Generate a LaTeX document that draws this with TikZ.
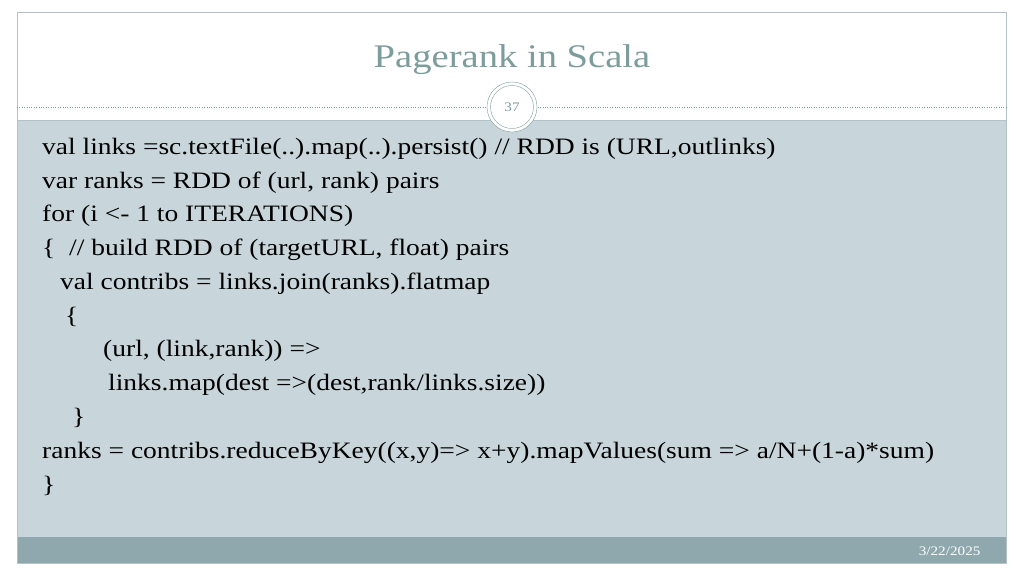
\documentclass[tikz,border=0pt]{standalone}
\usepackage{fontspec}
\setmainfont{Liberation Serif}[FakeStretch=1.17]
\definecolor{body}{HTML}{C8D5DA}
\definecolor{foot}{HTML}{8FA8AE}
\definecolor{ttl}{HTML}{7D9C9C}
\definecolor{frame}{HTML}{B4C2C6}
\begin{document}
\begin{tikzpicture}[x=1pt,y=-1pt,
  code/.style={anchor=base west,inner sep=0pt,font=\fontsize{23.5}{23.5}\selectfont}]
\useasboundingbox (0,0) rectangle (1024,576);
\fill[white] (0,0) rectangle (1024,576);
\fill[body] (17,120) rectangle (1006,537);
\fill[foot] (17,537) rectangle (1006,563);
\draw[frame] (17,12) rectangle (1006,563);
\draw[frame] (17,120) -- (1006,120);
\draw[ttl,dotted] (17,107) -- (1006,107);
\node[ttl,font=\fontsize{33}{33}\selectfont] (title) at (512,60) {Pagerank in Scala};
\node[circle,draw=ttl,fill=white,minimum size=50pt,inner sep=0pt] (pn) at (512,107) {};
\node[circle,draw=ttl,minimum size=43pt,inner sep=0pt,font=\fontsize{13}{13}\selectfont,text=ttl] (pn2) at (512,107) {37};
\node[text=white,anchor=east,font=\fontsize{13}{13}\selectfont] (date) at (984,551) {3/22/2025};
\node[code] (l1) at (42,154) {val links =sc.textFile(..).map(..).persist() // RDD is (URL,outlinks)};
\node[code] (l2) at (42,188) {var ranks = RDD of (url, rank) pairs};
\node[code] (l3) at (42,221) {for (i <- 1 to ITERATIONS)};
\node[code] (l4) at (42,255) {\{ \ // build RDD of (targetURL, float) pairs};
\node[code] (l5) at (60,289) {val contribs = links.join(ranks).flatmap};
\node[code] (l6) at (65,323) {\{};
\node[code] (l7) at (103,356) {(url, (link,rank)) =>};
\node[code] (l8) at (108,390) {links.map(dest =>(dest,rank/links.size))};
\node[code] (l9) at (72,424) {\}};
\node[code] (l10) at (42,458) {ranks = contribs.reduceByKey((x,y)=> x+y).mapValues(sum => a/N+(1-a)*sum)};
\node[code] (l11) at (42,492) {\}};
\end{tikzpicture}
\end{document}
